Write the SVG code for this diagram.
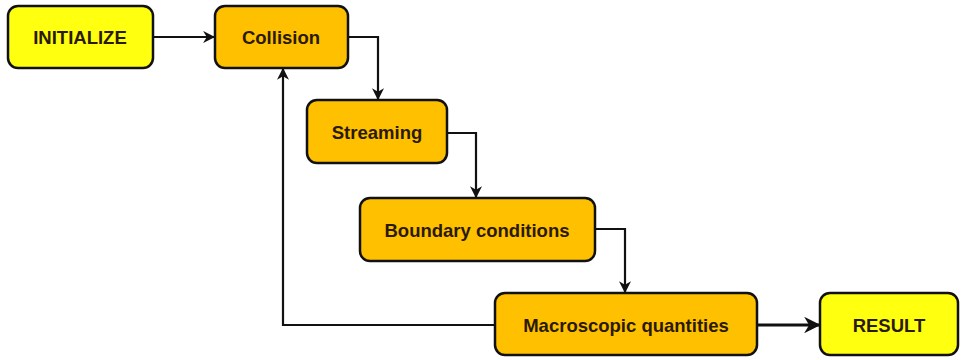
<svg xmlns="http://www.w3.org/2000/svg" width="964" height="360" viewBox="0 0 964 360">
<defs>
<style>
.box{stroke:#111;stroke-width:2.5}
.y{fill:#FFFF10}
.o{fill:#FFC000}
.t{font-family:"Liberation Sans",Arial,sans-serif;font-weight:bold;font-size:18.5px;fill:#2a1a00;text-anchor:middle;dominant-baseline:central}
.c{fill:none;stroke:#111;stroke-width:2.2}
</style>
<marker id="ah" viewBox="0 0 10 10" refX="9" refY="5" markerWidth="5.5" markerHeight="5.5" orient="auto" markerUnits="strokeWidth">
<path d="M0,0 L10,5 L0,10 L3,5 Z" fill="#111"/>
</marker>
</defs>
<rect width="964" height="360" fill="#fff"/>
<g id="connectors">
<path class="c" d="M153,37 H214" marker-end="url(#ah)"/>
<path class="c" d="M348,37 H378 V99" marker-end="url(#ah)"/>
<path class="c" d="M447,133 H476 V197" marker-end="url(#ah)"/>
<path class="c" d="M595,229 H625 V292" marker-end="url(#ah)"/>
<path class="c" d="M495,325 H283 V69" marker-end="url(#ah)"/>
<path class="c" style="stroke-width:3" d="M757,325 H819" marker-end="url(#ah)"/>
</g>
<g id="initialize"><rect class="box y" x="8" y="6" width="145" height="62" rx="10"/><text class="t" x="80" y="37">INITIALIZE</text></g>
<g id="collision"><rect class="box o" x="215" y="6" width="133" height="62" rx="10"/><text class="t" x="281" y="37">Collision</text></g>
<g id="streaming"><rect class="box o" x="307" y="100" width="140" height="63" rx="10"/><text class="t" x="377" y="132">Streaming</text></g>
<g id="boundary"><rect class="box o" x="360" y="198" width="235" height="63" rx="10"/><text class="t" x="477" y="230">Boundary conditions</text></g>
<g id="macroscopic"><rect class="box o" x="495" y="293" width="262" height="62" rx="10"/><text class="t" x="626" y="325">Macroscopic quantities</text></g>
<g id="result"><rect class="box y" x="820" y="293" width="138" height="62" rx="10"/><text class="t" x="889" y="325">RESULT</text></g>
</svg>
